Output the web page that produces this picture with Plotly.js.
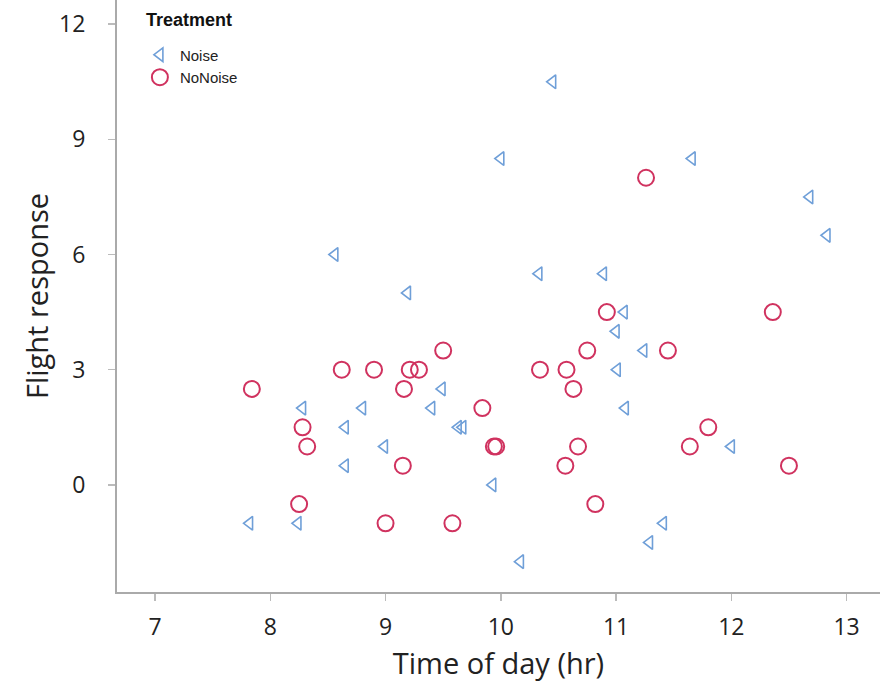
<!DOCTYPE html>
<html>
<head>
<meta charset="utf-8">
<script src="https://cdn.plot.ly/plotly-3.0.1.min.js"></script>
<style>html,body{margin:0;padding:0;background:#fff;}#chart{width:886px;height:695px;}</style>
</head>
<body>
<div id="chart"></div>
<script>
// Noise (triangles)
const noiseTime = [10.45, 10.0, 11.66, 12.68, 12.83, 8.56, 10.33, 10.89, 9.19, 11.07, 11.0, 11.24, 11.01, 9.49, 8.28, 8.80, 9.40, 11.08, 8.65, 9.63, 9.67, 8.99, 12.0, 8.65, 9.93, 7.82, 8.24, 11.41, 11.29, 10.17];
const noiseResp = [10.5, 8.5, 8.5, 7.5, 6.5, 6.0, 5.5, 5.5, 5.0, 4.5, 4.0, 3.5, 3.0, 2.5, 2.0, 2.0, 2.0, 2.0, 1.5, 1.5, 1.5, 1.0, 1.0, 0.5, 0, -1, -1, -1, -1.5, -2];
// NoNoise (circles)
const noNoiseTime = [11.26, 10.92, 12.36, 9.5, 10.75, 11.45, 8.62, 8.90, 9.21, 9.29, 10.34, 10.57, 7.84, 9.16, 10.63, 9.84, 8.28, 11.8, 8.32, 9.94, 9.96, 10.67, 11.64, 9.15, 10.56, 12.5, 8.25, 10.82, 9.0, 9.58];
const noNoiseResp = [8.0, 4.5, 4.5, 3.5, 3.5, 3.5, 3.0, 3.0, 3.0, 3.0, 3.0, 3.0, 2.5, 2.5, 2.5, 2.0, 1.5, 1.5, 1.0, 1.0, 1.0, 1.0, 1.0, 0.5, 0.5, 0.5, -0.5, -0.5, -1, -1];
const xTicks = [7, 8, 9, 10, 11, 12, 13];
const yTicks = [0, 3, 6, 9, 12];
const legendTitle = "Treatment";

const font = "Open Sans, Liberation Sans, sans-serif";
const traces = [
  {x: noiseTime, y: noiseResp, name: "Noise", type: "scatter", mode: "markers",
   marker: {symbol: "triangle-left-open", size: 12, color: "#6f9fd8", line: {width: 1.6, color: "#6f9fd8"}}},
  {x: noNoiseTime, y: noNoiseResp, name: "NoNoise", type: "scatter", mode: "markers",
   marker: {symbol: "circle-open", size: 16, color: "#d0325f", line: {width: 2, color: "#d0325f"}}}
];
const layout = {
  width: 886, height: 695,
  margin: {l: 117, r: 6, t: 0, b: 103},
  paper_bgcolor: "#fff", plot_bgcolor: "#fff",
  font: {family: font, color: "#222"},
  showlegend: true,
  legend: {x: 0.03, y: 0.935, xanchor: "left", yanchor: "top", bgcolor: "rgba(0,0,0,0)",
    font: {size: 15, family: "Liberation Sans, Arial, sans-serif", color: "#222"},
    tracegroupgap: 0, itemwidth: 30},
  annotations: [{text: "<b>" + legendTitle + "</b>", xref: "paper", yref: "paper",
    x: 0.036, y: 0.966, xanchor: "left", yanchor: "middle", showarrow: false,
    font: {size: 18, family: "Liberation Sans, Arial, sans-serif", color: "#111"}}],
  xaxis: {range: [6.67, 13.29], tickvals: xTicks, ticktext: xTicks.map(String),
    showgrid: false, zeroline: false, showline: true, linecolor: "#aaa", linewidth: 2,
    ticks: "outside", ticklen: 7, tickwidth: 1.5, tickcolor: "#bbb",
    tickfont: {size: 23, family: font, color: "#222"}, ticklabelstandoff: 6,
    title: {text: "Time of day (hr)", font: {size: 29, family: font, color: "#222"}, standoff: 13}},
  yaxis: {range: [-2.79, 12.63], tickvals: yTicks, ticktext: yTicks.map(String),
    showgrid: false, zeroline: false, showline: true, linecolor: "#aaa", linewidth: 2,
    ticks: "outside", ticklen: 7, tickwidth: 1.5, tickcolor: "#bbb",
    tickfont: {size: 23, family: font, color: "#222"}, ticklabelstandoff: 18,
    title: {text: "Flight response", font: {size: 29, family: font, color: "#222"}, standoff: 2}}
};
Plotly.newPlot("chart", traces, layout, {displayModeBar: false, staticPlot: true});
</script>
</body>
</html>
